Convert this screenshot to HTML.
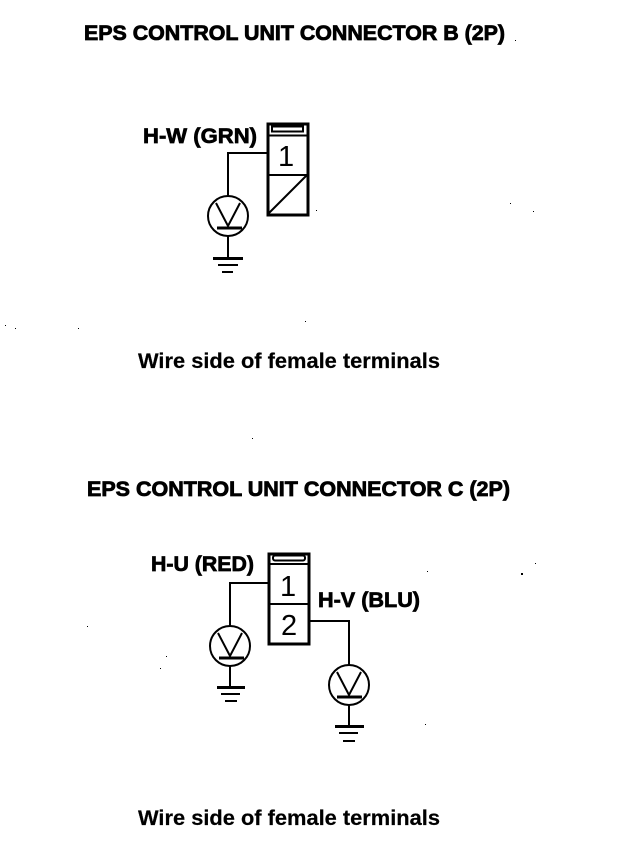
<!DOCTYPE html>
<html>
<head>
<meta charset="utf-8">
<style>
html,body{margin:0;padding:0;background:#fff}
svg{display:block}
text{font-family:"Liberation Sans",sans-serif;fill:#000}
.t{font-weight:bold;font-size:21px;stroke:#000;stroke-width:.8px}
.l{font-weight:bold;font-size:21px;stroke:#000;stroke-width:.7px}
.c{font-weight:bold;font-size:21px;stroke:#000;stroke-width:.2px}
.n{font-size:29px}
</style>
</head>
<body>
<svg width="640" height="854" viewBox="0 0 640 854" xmlns="http://www.w3.org/2000/svg">
<text class="t" x="84" y="40" textLength="421" lengthAdjust="spacingAndGlyphs">EPS CONTROL UNIT CONNECTOR B (2P)</text>
<text class="t" x="87" y="496" textLength="423" lengthAdjust="spacingAndGlyphs">EPS CONTROL UNIT CONNECTOR C (2P)</text>
<text class="c" x="138" y="368" textLength="302" lengthAdjust="spacingAndGlyphs">Wire side of female terminals</text>
<text class="c" x="138" y="825" textLength="302" lengthAdjust="spacingAndGlyphs">Wire side of female terminals</text>
<text class="l" x="143" y="143" textLength="114" lengthAdjust="spacingAndGlyphs">H-W (GRN)</text>
<text class="l" x="151" y="571" textLength="103" lengthAdjust="spacingAndGlyphs">H-U (RED)</text>
<text class="l" x="318" y="607" textLength="102" lengthAdjust="spacingAndGlyphs">H-V (BLU)</text>
<g fill="none" stroke="#000" stroke-width="2">
<!-- connector B -->
<rect x="268" y="124" width="40" height="91" stroke-width="3"/>
<path d="M268 135.500H308M268 175H308M268 214L307 175"/>
<rect x="272" y="126.500" width="31" height="5"/>
<path d="M267 153H228V197"/>
<circle cx="228" cy="216" r="20"/>
<path d="M216 203L228 226L240 203"/>
<path d="M217 228H242" stroke-width="3"/>
<path d="M228 236V258"/>
<path d="M213 258.500H243" stroke-width="3"/>
<path d="M218 265H238M222 272H233"/>
<!-- connector C -->
<rect x="269" y="554" width="40" height="90" stroke-width="3"/>
<path d="M269 564H309M269 604H309"/>
<rect x="273" y="555.500" width="32" height="5" rx="2"/>
<path d="M268 583H230V627"/>
<circle cx="230" cy="646" r="20"/>
<path d="M218 633L230 656L242 633"/>
<path d="M219 658H244" stroke-width="3"/>
<path d="M230 666V687"/>
<path d="M217 687.500H245" stroke-width="3"/>
<path d="M221 694H240M225 701H237"/>
<path d="M309 621H349V665"/>
<circle cx="349" cy="685" r="20"/>
<path d="M337 672L349 695L361 672"/>
<path d="M337 697H362" stroke-width="3"/>
<path d="M349 705V726"/>
<path d="M335 726.500H364" stroke-width="3"/>
<path d="M339 733H358M343 741H355"/>
</g>
<text class="n" x="278" y="166">1</text>
<text class="n" x="280" y="596">1</text>
<text class="n" x="281" y="635">2</text>
<g fill="#000">
<rect x="5" y="325" width="1" height="1"/>
<rect x="15" y="328" width="1" height="1"/>
<rect x="78" y="328" width="1" height="1"/>
<rect x="305" y="321" width="1" height="1"/>
<rect x="252" y="438" width="1" height="1"/>
<rect x="510" y="203" width="1" height="1"/>
<rect x="533" y="211" width="1" height="1"/>
<rect x="316" y="210" width="1" height="1"/>
<rect x="521" y="573" width="2" height="2"/>
<rect x="535" y="563" width="1" height="1"/>
<rect x="87" y="626" width="1" height="1"/>
<rect x="166" y="656" width="1" height="1"/>
<rect x="160" y="668" width="1" height="1"/>
<rect x="427" y="571" width="1" height="1"/>
<rect x="425" y="724" width="1" height="1"/>
<rect x="515" y="40" width="1" height="1"/>
</g>
</svg>
</body>
</html>
